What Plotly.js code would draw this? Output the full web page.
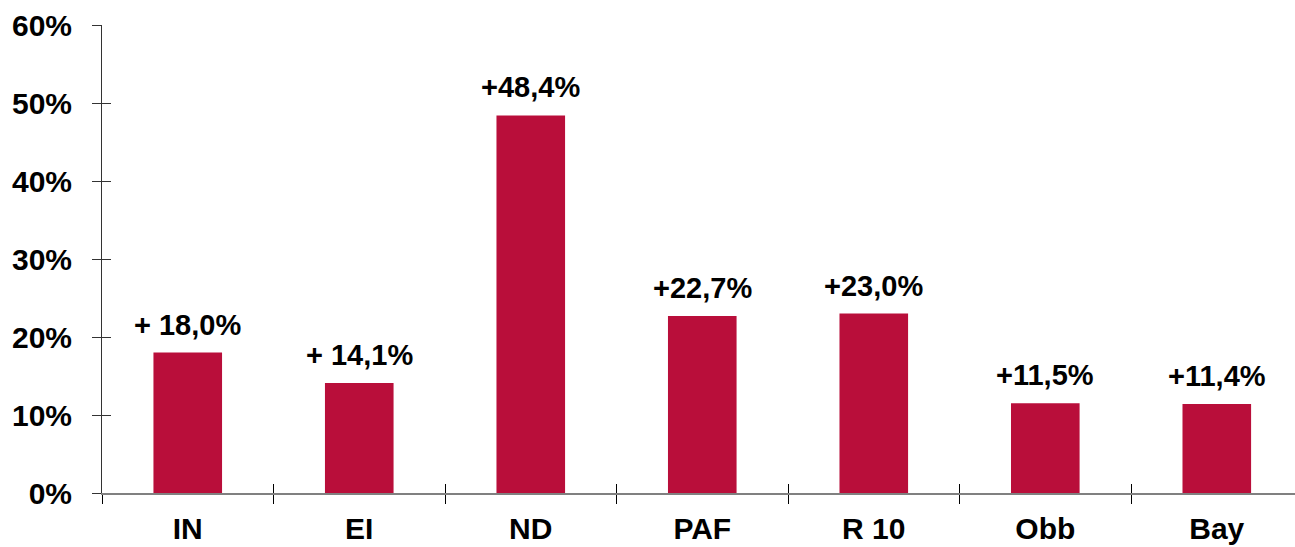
<!DOCTYPE html>
<html>
<head>
<meta charset="utf-8">
<script src="https://cdn.plot.ly/plotly-3.0.1.min.js"></script>
<style>html,body{margin:0;padding:0;background:#fff;}#chart{width:1295px;height:547px;}</style>
</head>
<body>
<div id="chart"></div>
<script>
const categories = ["IN", "EI", "ND", "PAF", "R 10", "Obb", "Bay"];
const values = [18.0, 14.1, 48.4, 22.7, 23.0, 11.5, 11.4];
const valueLabels = ["+ 18,0%", "+ 14,1%", "+48,4%", "+22,7%", "+23,0%", "+11,5%", "+11,4%"];
const yTickVals = [0, 10, 20, 30, 40, 50, 60];
const yTickLabels = ["0%", "10%", "20%", "30%", "40%", "50%", "60%"];

const FONT = "Liberation Sans, Arial, sans-serif";
const BAR_COLOR = "#B90E3A";

const traces = [
  {
    type: "bar",
    x: categories,
    y: values,
    width: 0.4,
    marker: {color: BAR_COLOR},
    hoverinfo: "skip",
    xaxis: "x",
    yaxis: "y"
  },
  {
    type: "scatter",
    mode: "markers",
    x: categories,
    y: values,
    marker: {opacity: 0},
    hoverinfo: "skip",
    showlegend: false,
    xaxis: "x2",
    yaxis: "y2"
  }
];

const annotations = categories.map((c, i) => ({
  x: c,
  y: values[i],
  xref: "x",
  yref: "y",
  text: valueLabels[i],
  showarrow: false,
  yanchor: "middle",
  yshift: 28,
  font: {family: FONT, size: 29, color: "#000", weight: 700}
}));

const xRange = [-0.5, 6.456];
const yRange = [0, 60];

const layout = {
  width: 1295,
  height: 547,
  margin: {l: 102, r: 0, t: 25, b: 54},
  paper_bgcolor: "#fff",
  plot_bgcolor: "#fff",
  showlegend: false,
  xaxis: {
    type: "category",
    range: xRange,
    showgrid: false,
    zeroline: false,
    showline: true,
    linecolor: "#808080",
    linewidth: 2,
    ticks: "outside",
    tickson: "boundaries",
    ticklen: 9,
    tickwidth: 1,
    tickcolor: "#000",
    ticklabelstandoff: 8,
    tickfont: {family: FONT, size: 30, color: "#000", weight: 700},
    fixedrange: true
  },
  xaxis2: {
    type: "category",
    overlaying: "x",
    anchor: "y2",
    range: xRange,
    showgrid: false,
    zeroline: false,
    showline: false,
    ticks: "inside",
    tickson: "boundaries",
    ticklen: 9,
    tickwidth: 1,
    tickcolor: "#000",
    showticklabels: false
  },
  yaxis: {
    range: yRange,
    tickmode: "array",
    tickvals: yTickVals,
    ticktext: yTickLabels,
    showgrid: false,
    zeroline: false,
    showline: true,
    linecolor: "#333",
    linewidth: 1,
    ticks: "outside",
    ticklen: 9,
    tickwidth: 1,
    tickcolor: "#333",
    ticklabelstandoff: 14,
    tickfont: {family: FONT, size: 30, color: "#000", weight: 700},
    fixedrange: true
  },
  yaxis2: {
    overlaying: "y",
    anchor: "x2",
    side: "left",
    range: yRange,
    tickmode: "array",
    tickvals: yTickVals,
    showgrid: false,
    zeroline: false,
    showline: false,
    ticks: "inside",
    ticklen: 9,
    tickwidth: 1,
    tickcolor: "#333",
    showticklabels: false
  },
  annotations: annotations
};

Plotly.newPlot("chart", traces, layout, {displayModeBar: false, staticPlot: true});
</script>
</body>
</html>
